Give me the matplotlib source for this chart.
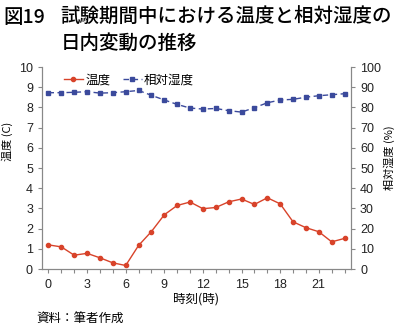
import matplotlib
matplotlib.use("Agg")
import matplotlib.pyplot as plt
from matplotlib.ticker import MultipleLocator

plt.rcParams['font.family'] = ['Noto Sans CJK JP', 'DejaVu Sans']

hours = list(range(24))
temperature = [1.20, 1.10, 0.69, 0.78, 0.56, 0.31, 0.18, 1.17, 1.86, 2.69, 3.15, 3.32,
               2.99, 3.05, 3.33, 3.47, 3.20, 3.53, 3.23, 2.34, 2.05, 1.85, 1.35, 1.52]
humidity = [87.3, 87.3, 87.5, 87.8, 87.1, 87.3, 87.8, 88.4, 86.0, 83.7, 81.5, 79.7,
            79.2, 79.5, 78.4, 77.7, 79.9, 82.3, 83.7, 84.0, 85.1, 85.8, 86.3, 86.8]
xtick_labels = [0, 3, 6, 9, 12, 15, 18, 21]

red = '#d8432a'
blue = '#3b4a9c'
gray = '#888888'
tick_font = ['Liberation Sans', 'DejaVu Sans']

fig = plt.figure(figsize=(4.0, 3.27), dpi=100)
ax = fig.add_axes([0.105, 0.177, 0.7725, 0.618])
ax2 = ax.twinx()

l1, = ax.plot(hours, temperature, color=red, lw=1.0, marker='o', ms=3, label='温度', zorder=3)
l2, = ax2.plot(hours, humidity, color=blue, lw=1.0, ls=(0, (4, 2.5)), marker='s', ms=3, label='相対湿度')

ax.set_xlim(-0.5, 23.5)
ax.set_ylim(0, 10)
ax2.set_ylim(0, 100)
ax.set_xticks(xtick_labels)
ax.xaxis.set_minor_locator(MultipleLocator(1))
ax.set_yticks(range(0, 11))
ax2.set_yticks(range(0, 101, 10))

for a in (ax, ax2):
    for s in a.spines.values():
        s.set_color(gray)
        s.set_linewidth(0.8)
    a.spines['top'].set_visible(False)
    a.tick_params(colors=gray, labelcolor='#222222', labelsize=9, length=3, width=0.8)
    a.tick_params(which='minor', colors=gray, length=3, width=0.8)
    for lab in a.get_xticklabels() + a.get_yticklabels():
        lab.set_family(tick_font)
ax.tick_params(axis='x', pad=4)

ax.set_xlabel('時刻(時)', fontsize=9, labelpad=1)
ax.set_ylabel('温度 (C)', fontsize=8)
ax.yaxis.set_label_coords(-0.094, 0.63)
ax2.set_ylabel('相対湿度 (%)', fontsize=8)
ax2.yaxis.set_label_coords(1.104, 0.55)

ax.legend(handles=[l1, l2], loc='upper left', bbox_to_anchor=(0.035, 1.025), ncol=2,
          frameon=False, fontsize=9, handlelength=1.5, handletextpad=0.2,
          columnspacing=1.0)

title_kw = dict(fontsize=14, fontweight='medium', va='center', ha='left')
fig.text(0.008, 0.946, '図19', **title_kw)
fig.text(0.152, 0.946, '試験期間中における温度と相対湿度の', **title_kw)
fig.text(0.152, 0.868, '日内変動の推移', **title_kw)
fig.text(0.092, 0.022, '資料：筆者作成', fontsize=9, va='center', ha='left')

fig.savefig('out.png', dpi=100)
